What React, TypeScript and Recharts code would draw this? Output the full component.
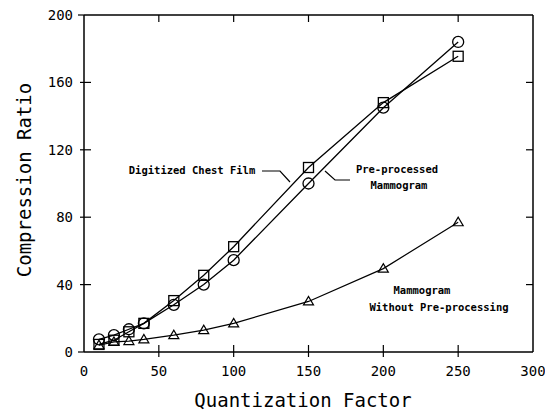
import { LineChart, Line, XAxis, YAxis } from 'recharts';

const quantization = [10, 20, 30, 40, 60, 80, 100, 150, 200, 250];
const chestFilm = [4.5, 7, 12, 17, 30.5, 45.5, 62.5, 109.5, 148, 175.5];
const preprocessed = [7.5, 10, 13.5, 17, 28, 40, 54.5, 100, 145, 184];
const rawMammogram = [4, 6, 6.5, 7.5, 10, 13, 17, 30, 49.5, 77];

const xTicks = [0, 50, 100, 150, 200, 250, 300];
const yTicks = [0, 40, 80, 120, 160, 200];

const FONT = '"DejaVu Sans Mono", monospace';

const data = quantization.map((q, i) => ({
  q,
  chest: chestFilm[i],
  pre: preprocessed[i],
  raw: rawMammogram[i],
}));

const Square = (p: any) => (
  <rect key={p.key ?? p.index} x={p.cx - 5} y={p.cy - 5} width={10} height={10} fill="none" stroke="#000" strokeWidth={1.3} />
);
const Circle = (p: any) => (
  <circle key={p.key ?? p.index} cx={p.cx} cy={p.cy} r={5.5} fill="none" stroke="#000" strokeWidth={1.3} />
);
const Triangle = (p: any) => (
  <polygon
    key={p.key ?? p.index}
    points={`${p.cx - 5},${p.cy + 3.5} ${p.cx + 5},${p.cy + 3.5} ${p.cx},${p.cy - 5}`}
    fill="none"
    stroke="#000"
    strokeWidth={1.2}
  />
);

const BottomTick = (p: any) => (
  <g key={p.index}>
    {p.payload.value > 0 && p.payload.value < 300 && (
      <line x1={p.x} x2={p.x} y1={p.y - 7} y2={p.y + 5} stroke="#000" strokeWidth={1.2} />
    )}
    <text x={p.x} y={p.y + 24} textAnchor="middle" fontSize={14} fontFamily={FONT} fill="#000">
      {p.payload.value}
    </text>
  </g>
);

const LeftTick = (p: any) => (
  <g key={p.index}>
    {p.payload.value > 0 && p.payload.value < 200 && (
      <line x1={p.x - 4} x2={p.x + 7} y1={p.y} y2={p.y} stroke="#000" strokeWidth={1.2} />
    )}
    {(p.payload.value === 0 || p.payload.value === 200) && (
      <line x1={p.x - 6} x2={p.x} y1={p.y} y2={p.y} stroke="#000" strokeWidth={1.2} />
    )}
    <text x={p.x - 11} y={p.y} dy="0.36em" textAnchor="end" fontSize={14} fontFamily={FONT} fill="#000">
      {p.payload.value}
    </text>
  </g>
);

const TopTick = (p: any) =>
  p.payload.value > 0 && p.payload.value < 300 ? (
    <line key={p.index} x1={p.x} x2={p.x} y1={p.y} y2={p.y + 7} stroke="#000" strokeWidth={1.2} />
  ) : (
    <g key={p.index} />
  );

const RightTick = (p: any) =>
  p.payload.value > 0 && p.payload.value < 200 ? (
    <line key={p.index} x1={p.x - 7} x2={p.x} y1={p.y} y2={p.y} stroke="#000" strokeWidth={1.2} />
  ) : (
    <g key={p.index} />
  );

const small = { fontSize: 10.5, fontFamily: FONT, fontWeight: 'bold' as const, fill: '#000' };

export default function App() {
  return (
    <div style={{ position: 'absolute', left: 0, top: 0, width: 545, height: 414, background: '#fff' }}>
      <LineChart width={545} height={414} data={data} margin={{ top: 14, right: 11, left: 0, bottom: 0 }}>
        <XAxis
          dataKey="q"
          type="number"
          domain={[0, 300]}
          ticks={xTicks}
          height={62}
          tickSize={0}
          tickMargin={0}
          tickLine={false}
          axisLine={{ stroke: '#000', strokeWidth: 1.5 }}
          tick={BottomTick}
          interval={0}
        />
        <XAxis
          xAxisId="top"
          dataKey="q"
          orientation="top"
          type="number"
          domain={[0, 300]}
          ticks={xTicks}
          height={1}
          tickSize={0}
          tickMargin={0}
          tickLine={false}
          axisLine={{ stroke: '#000', strokeWidth: 1.5 }}
          tick={TopTick}
          interval={0}
        />
        <YAxis
          type="number"
          domain={[0, 200]}
          ticks={yTicks}
          width={84}
          tickSize={0}
          tickMargin={0}
          tickLine={false}
          axisLine={{ stroke: '#000', strokeWidth: 1.5 }}
          tick={LeftTick}
          interval={0}
        />
        <YAxis
          yAxisId="right"
          orientation="right"
          type="number"
          domain={[0, 200]}
          ticks={yTicks}
          width={1}
          tickSize={0}
          tickMargin={0}
          tickLine={false}
          axisLine={{ stroke: '#000', strokeWidth: 1.5 }}
          tick={RightTick}
          interval={0}
        />
        {/* invisible series so the mirrored top/right axes get drawn */}
        <Line
          xAxisId="top"
          yAxisId="right"
          dataKey="raw"
          stroke="none"
          dot={false}
          activeDot={false}
          isAnimationActive={false}
        />
        <Line dataKey="raw" stroke="#000" strokeWidth={1.2} dot={Triangle} isAnimationActive={false} />
        <Line dataKey="pre" stroke="#000" strokeWidth={1.3} dot={Circle} isAnimationActive={false} />
        <Line dataKey="chest" stroke="#000" strokeWidth={1.3} dot={Square} isAnimationActive={false} />
      </LineChart>
      <svg width={545} height={414} style={{ position: 'absolute', left: 0, top: 0, pointerEvents: 'none' }}>
        <text x={303} y={407} textAnchor="middle" fontSize={19} fontFamily={FONT} fill="#000">
          Quantization Factor
        </text>
        <text
          x={0}
          y={0}
          transform="translate(31,180) rotate(-90)"
          textAnchor="middle"
          fontSize={19}
          fontFamily={FONT}
          fill="#000"
        >
          Compression Ratio
        </text>
        <text x={192} y={174} textAnchor="middle" {...small}>Digitized Chest Film</text>
        <polyline points="262,171 280,171 290,182" fill="none" stroke="#000" strokeWidth={1.2} />
        <text x={397} y={173} textAnchor="middle" {...small}>Pre-processed</text>
        <text x={399} y={189} textAnchor="middle" {...small}>Mammogram</text>
        <polyline points="325,171 335,180 350,180" fill="none" stroke="#000" strokeWidth={1.2} />
        <text x={422} y={294} textAnchor="middle" {...small}>Mammogram</text>
        <text x={439} y={311} textAnchor="middle" {...small}>Without Pre-processing</text>
      </svg>
    </div>
  );
}
